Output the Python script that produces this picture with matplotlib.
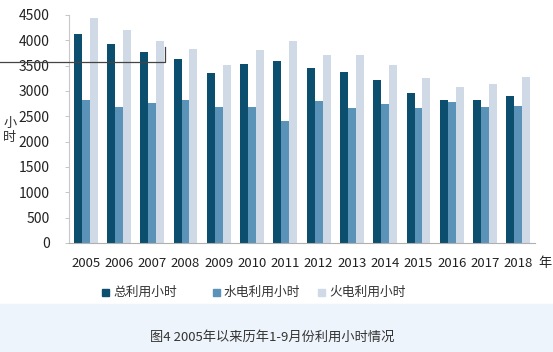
import numpy as np
import matplotlib
matplotlib.use('Agg')
import matplotlib.pyplot as plt
from matplotlib.lines import Line2D
from matplotlib.patches import Rectangle

plt.rcParams['font.family'] = ['Noto Sans CJK SC', 'DejaVu Sans']

years = ['2005', '2006', '2007', '2008', '2009', '2010', '2011',
         '2012', '2013', '2014', '2015', '2016', '2017', '2018']
total = [4120, 3930, 3770, 3640, 3360, 3530, 3600, 3450, 3380, 3210, 2970, 2830, 2830, 2910]
hydro = [2830, 2680, 2770, 2830, 2680, 2680, 2400, 2800, 2660, 2740, 2660, 2790, 2680, 2710]
thermal = [4450, 4210, 3990, 3820, 3510, 3800, 3990, 3710, 3710, 3520, 3250, 3080, 3130, 3270]
labels = ['总利用小时', '水电利用小时', '火电利用小时']
colors = ['#0b4e6d', '#5b92b8', '#cfdae6']

fig = plt.figure(figsize=(5.53, 3.52), dpi=100)
ax = fig.add_axes([69 / 553, 1 - 243 / 352, 466 / 553, 228 / 352])

x = np.arange(len(years))
w = 0.24
for i, (vals, c) in enumerate(zip([total, hydro, thermal], colors)):
    ax.bar(x + (i - 1) * w, vals, w, color=c, label=labels[i])

ax.set_xlim(-0.5, len(years) - 0.5)
ax.set_ylim(0, 4500)
ax.set_yticks(range(0, 4501, 500))
ax.set_xticks(x)
ax.set_xticklabels(years)
ax.tick_params(axis='x', length=0, labelsize=9.5, pad=10, colors='#222222')
ax.tick_params(axis='y', length=3, labelsize=10, pad=11, colors='#222222', width=0.6)
ax.tick_params(axis='y', color='#bbbbbb')
for s in ['top', 'right']:
    ax.spines[s].set_visible(False)
ax.spines['left'].set_color('#c8c8c8')
ax.spines['bottom'].set_color('#b0b0b0')

fig.text(10 / 553, 1 - 130 / 352, '小\n时', ha='center', va='center',
         fontsize=9.5, color='#333333', linespacing=1.1)
fig.text(538 / 553, 1 - 263 / 352, '年', ha='left', va='center',
         fontsize=9.5, color='#222222')

# legend
leg_x = [102, 213, 318]
for lx, lab, c in zip(leg_x, labels, colors):
    fig.patches.append(Rectangle((lx / 553, 1 - 296 / 352), 7 / 553, 7 / 352,
                                 transform=fig.transFigure, color=c))
    fig.text((lx + 11) / 553, 1 - 292 / 352, lab, ha='left', va='center',
             fontsize=9.2, color='#333333')

# caption panel
fig.patches.append(Rectangle((0, 0), 1, 1 - 304 / 352, transform=fig.transFigure,
                             color='#eef4fb', zorder=-1))
fig.text(272 / 553, 1 - 337 / 352, '图4 2005年以来历年1-9月份利用小时情况',
         ha='center', va='center', fontsize=9.5, color='#333333')

# stray line across the top-left
fig.add_artist(Line2D([0, 165 / 553, 165 / 553], [1 - 62 / 352, 1 - 62 / 352, 1 - 47 / 352],
                      transform=fig.transFigure, color='#444444', lw=0.9))

fig.savefig('out.png', dpi=100)
